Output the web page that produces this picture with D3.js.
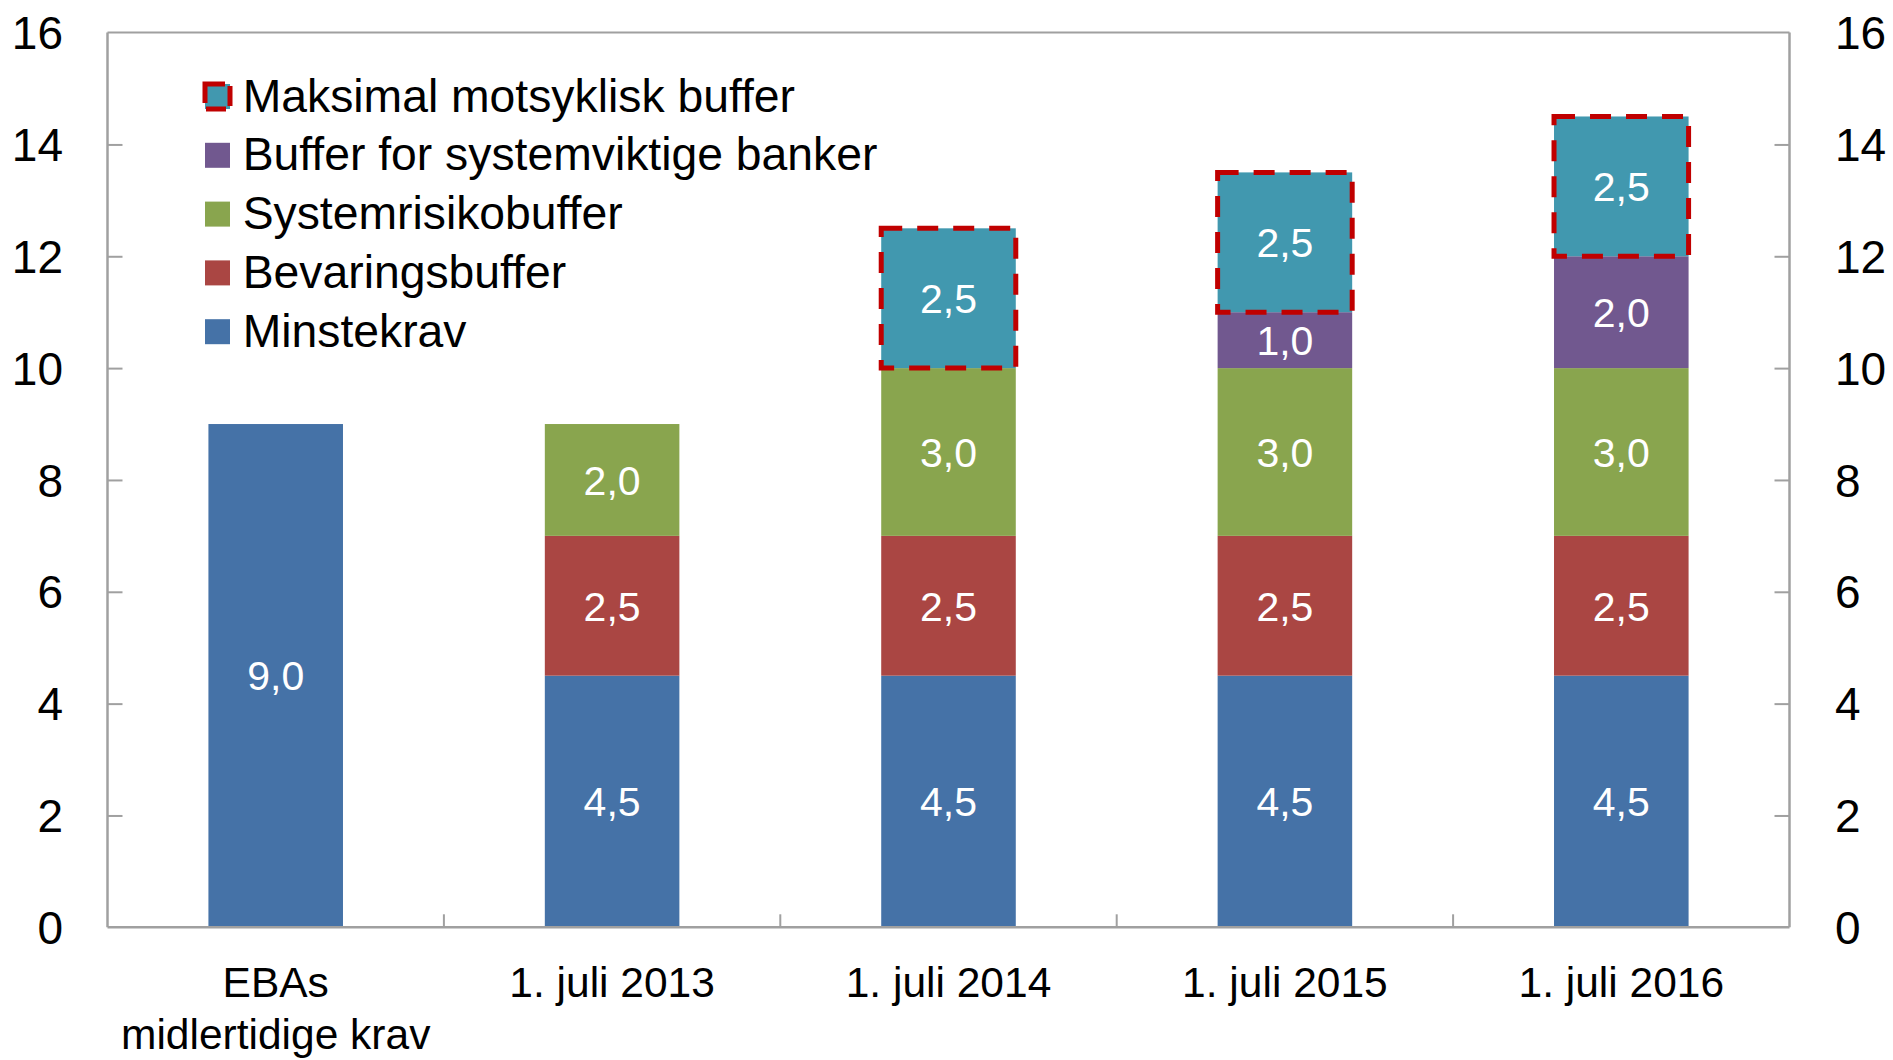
<!DOCTYPE html>
<html>
<head>
<meta charset="utf-8">
<script src="https://cdn.jsdelivr.net/npm/d3@7"></script>
<style>
  html, body { margin: 0; padding: 0; background: #fff; }
  svg { display: block; }
  text { font-family: "Liberation Sans", Arial, sans-serif; }
</style>
</head>
<body>
<svg id="chart" width="1893" height="1060"></svg>
<script>
// ---- data ----
const categories = [["EBAs", "midlertidige krav"], ["1. juli 2013"], ["1. juli 2014"], ["1. juli 2015"], ["1. juli 2016"]];
const seriesNames = ["Minstekrav", "Bevaringsbuffer", "Systemrisikobuffer", "Buffer for systemviktige banker", "Maksimal motsyklisk buffer"];
const minstekrav      = [9.0, 4.5, 4.5, 4.5, 4.5];
const bevaring        = [0, 2.5, 2.5, 2.5, 2.5];
const systemrisiko    = [0, 2.0, 3.0, 3.0, 3.0];
const systemviktige   = [0, 0, 0, 1.0, 2.0];
const motsyklisk      = [0, 0, 2.5, 2.5, 2.5];
const yTicks = [0, 2, 4, 6, 8, 10, 12, 14, 16];

const seriesValues = [minstekrav, bevaring, systemrisiko, systemviktige, motsyklisk];
const colors = ["#4572A7", "#AA4643", "#89A54E", "#71588F", "#4198AF"];

(function () {
// ---- layout ----
const svg = d3.select("#chart");
const pL = 107.5, pR = 1789.5, pT = 32.6, pB = 927.3;
const axisColor = "#A0A0A0";

const x = d3.scaleBand().domain(d3.range(categories.length)).range([pL, pR]).paddingInner(0.6).paddingOuter(0.3);
const y = d3.scaleLinear().domain([0, 16]).range([pB, pT]);

// stacked data
const rows = categories.map((c, i) => {
  const o = { i };
  seriesNames.forEach((s, k) => o[s] = seriesValues[k][i]);
  return o;
});
const stack = d3.stack().keys(seriesNames)(rows);

const fmt = v => d3.format(".1f")(v).replace(".", ",");

// bars
const g = svg.append("g");
stack.forEach((layer, k) => {
  layer.forEach((d, i) => {
    const v = d[1] - d[0];
    if (v <= 0) return;
    g.append("rect")
      .attr("x", x(i)).attr("width", x.bandwidth())
      .attr("y", y(d[1])).attr("height", y(d[0]) - y(d[1]))
      .attr("fill", colors[k]);
  });
});
// dashed borders for motsyklisk
stack[4].forEach((d, i) => {
  if (d[1] - d[0] <= 0) return;
  g.append("rect")
    .attr("x", x(i)).attr("width", x.bandwidth())
    .attr("y", y(d[1])).attr("height", y(d[0]) - y(d[1]))
    .attr("fill", "none").attr("stroke", "#C00000")
    .attr("stroke-width", 5).attr("stroke-dasharray", "21,15");
});
// bar labels
stack.forEach((layer, k) => {
  layer.forEach((d, i) => {
    const v = d[1] - d[0];
    if (v <= 0) return;
    g.append("text")
      .attr("x", x(i) + x.bandwidth() / 2)
      .attr("y", y((d[0] + d[1]) / 2))
      .attr("dy", "0.36em")
      .attr("text-anchor", "middle")
      .attr("fill", "#fff")
      .attr("font-size", 41)
      .text(fmt(v));
  });
});

// axes frame
const axL = d3.axisLeft(y).tickValues(yTicks.slice(1, -1)).tickSize(-15).tickFormat("");
const axR = d3.axisRight(y).tickValues(yTicks.slice(1, -1)).tickSize(-15).tickFormat("");
const gl = svg.append("g").attr("transform", `translate(${pL},0)`).call(axL);
const gr = svg.append("g").attr("transform", `translate(${pR},0)`).call(axR);
[gl, gr].forEach(a => {
  a.select(".domain").remove();
  a.selectAll("line").attr("stroke", axisColor).attr("stroke-width", 2);
});
// box lines
svg.append("line").attr("x1", pL).attr("x2", pL).attr("y1", pT).attr("y2", pB).attr("stroke", axisColor).attr("stroke-width", 2.5);
svg.append("line").attr("x1", pR).attr("x2", pR).attr("y1", pT).attr("y2", pB).attr("stroke", axisColor).attr("stroke-width", 2.5);
svg.append("line").attr("x1", pL).attr("x2", pR).attr("y1", pT).attr("y2", pT).attr("stroke", axisColor).attr("stroke-width", 2);
svg.append("line").attr("x1", pL).attr("x2", pR).attr("y1", pB).attr("y2", pB).attr("stroke", axisColor).attr("stroke-width", 2.5);

// x category boundary ticks
const step = x.step();
d3.range(1, categories.length).forEach(i => {
  const bx = x(i) - x.paddingInner() * step / 2;
  svg.append("line").attr("x1", bx).attr("x2", bx).attr("y1", pB).attr("y2", pB - 13)
    .attr("stroke", axisColor).attr("stroke-width", 2);
});

// y tick labels
yTicks.forEach(t => {
  svg.append("text").attr("x", 63).attr("y", y(t)).attr("dy", "0.36em")
    .attr("text-anchor", "end").attr("font-size", 46).attr("fill", "#000").text(t);
  svg.append("text").attr("x", 1835).attr("y", y(t)).attr("dy", "0.36em")
    .attr("text-anchor", "start").attr("font-size", 46).attr("fill", "#000").text(t);
});

// x labels
categories.forEach((lines, i) => {
  const t = svg.append("text").attr("text-anchor", "middle").attr("font-size", 42.5).attr("fill", "#000");
  lines.forEach((ln, j) => {
    t.append("tspan").attr("x", x(i) + x.bandwidth() / 2).attr("y", 996.7 + j * 52).text(ln);
  });
});

// legend (top to bottom: reverse of stack order)
const legendOrder = [4, 3, 2, 1, 0];
legendOrder.forEach((k, r) => {
  const cy = 96.5 + r * 58.8;
  if (k === 4) {
    svg.append("rect").attr("x", 205).attr("y", cy - 12.5).attr("width", 25).attr("height", 25)
      .attr("fill", colors[k]).attr("stroke", "#C00000").attr("stroke-width", 5).attr("stroke-dasharray", "20,7");
  } else {
    svg.append("rect").attr("x", 205).attr("y", cy - 12.5).attr("width", 25).attr("height", 25).attr("fill", colors[k]);
  }
  svg.append("text").attr("x", 242.7).attr("y", cy + 15).attr("font-size", 46.3).attr("fill", "#000").text(seriesNames[k]);
});
})();
</script>
</body>
</html>
